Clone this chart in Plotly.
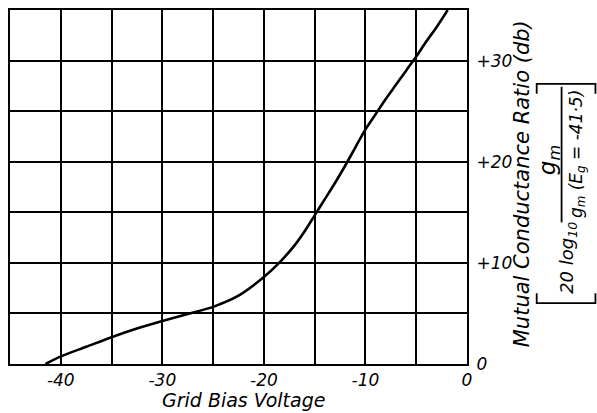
import plotly.graph_objects as go

# Mutual conductance ratio (db) against grid bias voltage
grid_bias = [-41.5, -40, -37.5, -35, -32.5, -30, -27.5, -25, -22.5, -20,
             -18.5, -17, -16, -15, -14, -13, -12, -11, -10, -9, -8, -7,
             -6, -5, -4, -3, -1.9]
ratio_db = [0, 0.75, 1.7, 2.65, 3.5, 4.25, 4.95, 5.65, 6.75, 8.6,
            10.0, 11.7, 13.1, 14.7, 16.3, 17.9, 19.6, 21.4, 23.2, 24.7, 26.2, 27.6,
            29.0, 30.4, 31.9, 33.3, 35.0]

x_tick_vals = [-40, -30, -20, -10, 0]
x_tick_text = ["-40", "-30", "-20", "-10", "0"]
y_tick_vals = [0, 10, 20, 30]
y_tick_text = ["0", "+10", "+20", "+30"]

W, H = 597, 413
L, R, T, B = 8, 130, 9, 49
FONT = "DejaVu Sans"


def px(x):
    return (x - L) / (W - L - R)


def py(y):
    return (H - B - y) / (H - T - B)


fig = go.Figure()
fig.add_trace(go.Scatter(
    x=grid_bias, y=ratio_db, mode="lines",
    line=dict(color="black", width=2.6, shape="spline", smoothing=0.8),
    showlegend=False, hoverinfo="skip",
))

axis_common = dict(
    showline=True, mirror=True, linecolor="black", linewidth=2,
    showgrid=True, gridcolor="black", gridwidth=1.6,
    zeroline=False, ticks="",
)

fig.update_xaxes(
    range=[-45, 0], tickvals=x_tick_vals, ticktext=x_tick_text,
    minor=dict(tick0=-45, dtick=5, showgrid=True, gridcolor="black", gridwidth=1.6),
    ticklabelstandoff=0,
    tickfont=dict(family=FONT, size=17, color="black", style="italic"),
    **axis_common,
)
fig.update_yaxes(
    range=[0, 35], side="right", tickvals=y_tick_vals, ticktext=y_tick_text,
    minor=dict(tick0=0, dtick=5, showgrid=True, gridcolor="black", gridwidth=1.6),
    ticklabelstandoff=4,
    tickfont=dict(family=FONT, size=17, color="black", style="italic"),
    **axis_common,
)

annotations = [
    dict(text="Grid Bias Voltage", x=px(243), y=py(413), yanchor="bottom",
         font=dict(family=FONT, size=19, color="black", style="italic")),
    dict(text="Mutual Conductance Ratio (db)", x=px(522), y=py(183),
         textangle=-90, font=dict(family=FONT, size=21, color="black", style="italic")),
    dict(text="20 log<sub>10</sub>", x=px(569), y=py(258),
         textangle=-90, font=dict(family=FONT, size=18, color="black", style="italic")),
    dict(text="g<sub>m</sub>", x=px(549), y=py(160),
         textangle=-90, font=dict(family=FONT, size=23, color="black", style="italic")),
    dict(text="g<sub>m</sub> (E<sub>g</sub> = -41·5)", x=px(578), y=py(154),
         textangle=-90, font=dict(family=FONT, size=17, color="black", style="italic")),
]
for a in annotations:
    a.setdefault("yanchor", "middle")
    a.update(xref="paper", yref="paper", showarrow=False, xanchor="center")

line_style = dict(color="black", width=1.8)
shapes = [
    # fraction bar
    dict(type="line", x0=px(562), x1=px(562), y0=py(86), y1=py(222)),
    # bracket, top half
    dict(type="path",
         path=f"M {px(537)},{py(93)} L {px(537)},{py(83)} L {px(596)},{py(83)} L {px(596)},{py(93)}"),
    # bracket, bottom half
    dict(type="path",
         path=f"M {px(537)},{py(293)} L {px(537)},{py(303)} L {px(596)},{py(303)} L {px(596)},{py(293)}"),
]
for s in shapes:
    s.update(xref="paper", yref="paper", line=line_style)

fig.update_layout(
    width=W, height=H,
    margin=dict(l=L, r=R, t=T, b=B),
    paper_bgcolor="white", plot_bgcolor="white",
    annotations=annotations, shapes=shapes,
    showlegend=False,
)

fig.write_html("out.html")
